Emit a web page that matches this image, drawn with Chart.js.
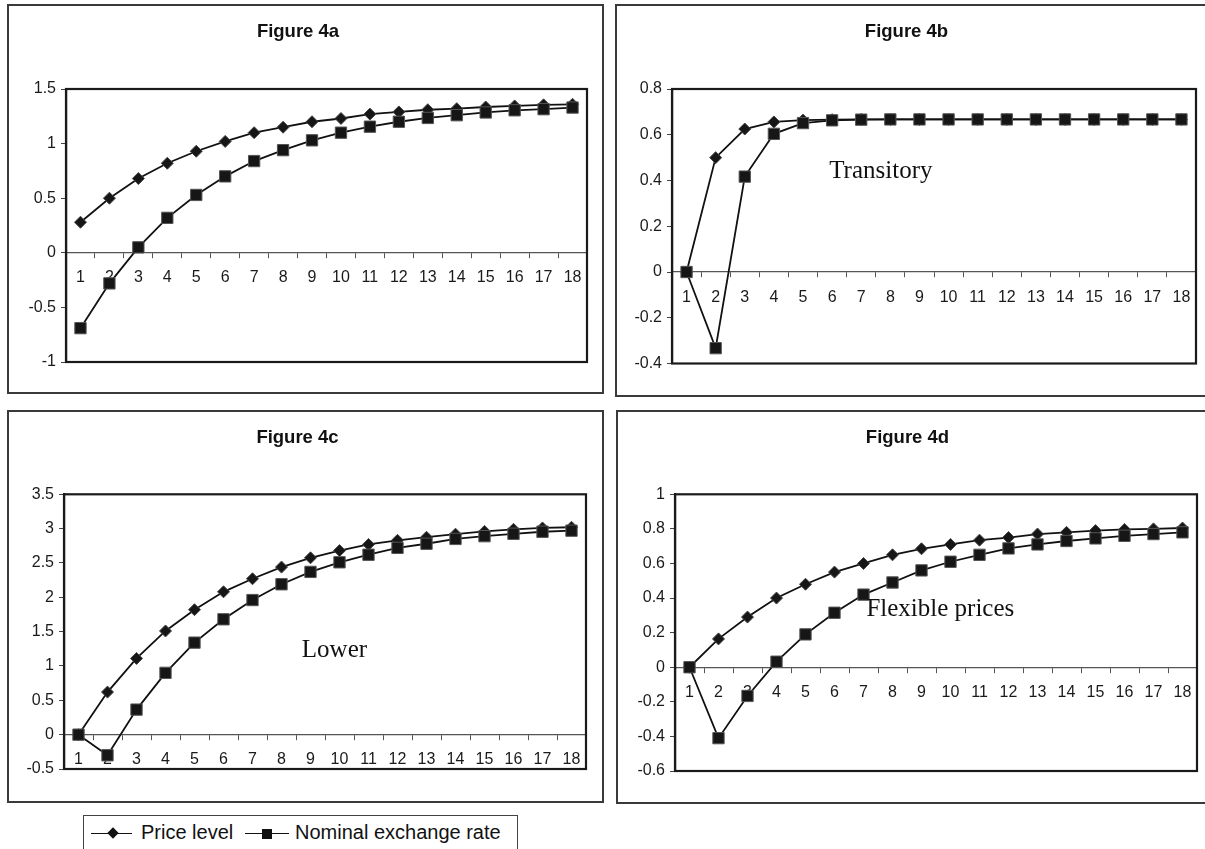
<!DOCTYPE html>
<html>
<head>
<meta charset="utf-8">
<script src="https://cdn.jsdelivr.net/npm/chart.js@4.4.1/dist/chart.umd.min.js"></script>
<style>
    html, body { margin: 0; padding: 0; background: #fff; overflow: hidden; }
    body { width: 1205px; height: 849px; position: relative; font-family: 'Liberation Sans', Arial, sans-serif; }
    .panel { position: absolute; border: 2px solid #3a3a3a; box-sizing: border-box; }
    .panel canvas { position: absolute; left: 0; top: 0; }
    #legend { position: absolute; left: 83px; top: 815px; width: 435px; height: 50px; border: 1px solid #444; box-sizing: border-box; color: #111; }
    #legend .line { position: absolute; height: 0; border-top: 1.5px solid #111; }
    #legend .mark { position: absolute; background: #111; }
    #legend span { position: absolute; top: 6px; font-size: 20px; line-height: 20px; white-space: nowrap; }
</style>
</head>
<body>
<div class="panel" style="left:7px; top:4px; width:597px; height:390px;"><canvas id="chartA" width="593" height="386"></canvas></div>
<div class="panel" style="left:615px; top:4px; width:597px; height:393px;"><canvas id="chartB" width="593" height="389"></canvas></div>
<div class="panel" style="left:7px; top:410px; width:597px; height:393px;"><canvas id="chartC" width="593" height="389"></canvas></div>
<div class="panel" style="left:616px; top:410px; width:597px; height:394px;"><canvas id="chartD" width="593" height="390"></canvas></div>

<div id="legend">
    <div class="line" style="left:7px; top:17px; width:41px;"></div>
    <div class="mark" style="left:25px; top:13px; width:8px; height:8px; transform: rotate(45deg);"></div>
    <span style="left:57px;">Price level</span>
    <div class="line" style="left:161px; top:17px; width:44px;"></div>
    <div class="mark" style="left:178px; top:13px; width:10px; height:10px;"></div>
    <span style="left:211px;">Nominal exchange rate</span>
</div>

<script>
// Periods on the x axis
const periods = ['1', '2', '3', '4', '5', '6', '7', '8', '9', '10', '11', '12', '13', '14', '15', '16', '17', '18'];

// Figure 4a
const priceA = [0.28, 0.50, 0.68, 0.82, 0.93, 1.02, 1.10, 1.15, 1.20, 1.23, 1.27, 1.29, 1.31, 1.32, 1.335, 1.345, 1.355, 1.36];
const rateA  = [-0.69, -0.28, 0.05, 0.32, 0.53, 0.70, 0.84, 0.94, 1.03, 1.10, 1.155, 1.20, 1.235, 1.26, 1.285, 1.305, 1.315, 1.33];
const ticksA = [-1, -0.5, 0, 0.5, 1, 1.5];

// Figure 4b (transitory)
const priceB = [0, 0.50, 0.625, 0.656, 0.664, 0.666, 0.667, 0.667, 0.667, 0.667, 0.667, 0.667, 0.667, 0.667, 0.667, 0.667, 0.667, 0.667];
const rateB  = [0, -0.333, 0.417, 0.604, 0.651, 0.663, 0.666, 0.667, 0.667, 0.667, 0.667, 0.667, 0.667, 0.667, 0.667, 0.667, 0.667, 0.667];
const ticksB = [-0.4, -0.2, 0, 0.2, 0.4, 0.6, 0.8];

// Figure 4c (lower)
const priceC = [0, 0.62, 1.11, 1.51, 1.82, 2.08, 2.27, 2.44, 2.575, 2.68, 2.77, 2.83, 2.875, 2.92, 2.96, 2.99, 3.01, 3.02];
const rateC  = [0, -0.30, 0.365, 0.90, 1.34, 1.68, 1.96, 2.19, 2.37, 2.51, 2.62, 2.72, 2.78, 2.85, 2.89, 2.925, 2.955, 2.97];
const ticksC = [-0.5, 0, 0.5, 1, 1.5, 2, 2.5, 3, 3.5];

// Figure 4d (flexible prices)
const priceD = [0, 0.164, 0.29, 0.40, 0.48, 0.55, 0.60, 0.65, 0.685, 0.71, 0.735, 0.75, 0.77, 0.78, 0.79, 0.797, 0.80, 0.805];
const rateD  = [0, -0.41, -0.166, 0.032, 0.19, 0.315, 0.42, 0.49, 0.56, 0.61, 0.65, 0.687, 0.71, 0.73, 0.745, 0.76, 0.77, 0.78];
const ticksD = [-0.6, -0.4, -0.2, 0, 0.2, 0.4, 0.6, 0.8, 1];

Chart.defaults.font.family = "'Liberation Sans', Arial, sans-serif";
Chart.defaults.color = '#1a1a1a';

// Box round the plot area, drawn under the lines
const plotBoxPlugin = {
    id: 'plotBox',
    beforeDatasetsDraw: (chart) => {
        const a = chart.chartArea;
        const ctx = chart.ctx;
        ctx.save();
        ctx.lineWidth = 2.2;
        ctx.strokeStyle = '#1a1a1a';
        ctx.strokeRect(a.left, a.top, a.right - a.left, a.bottom - a.top);
        ctx.restore();
    }
};

// Text note placed in data coordinates
const notePlugin = {
    id: 'note',
    afterDatasetsDraw: (chart, args, opts) => {
        if (!opts.text) return;
        const ctx = chart.ctx;
        const x = chart.scales.x.getPixelForValue(opts.x);
        const y = chart.scales.y.getPixelForValue(opts.y);
        ctx.save();
        ctx.font = "25px 'Liberation Serif', 'Times New Roman', serif";
        ctx.fillStyle = '#111';
        ctx.textAlign = 'left';
        ctx.textBaseline = 'alphabetic';
        ctx.fillText(opts.text, x, y);
        ctx.restore();
    }
};

function makePanel(id, title, prices, rates, yTicks, box, note) {
    const canvas = document.getElementById(id);
    return new Chart(canvas, {
        type: 'line',
        data: {
            labels: periods,
            datasets: [{
                label: 'Nominal exchange rate',
                data: rates,
                order: 0,
                borderColor: '#111',
                borderWidth: 1.8,
                pointStyle: 'rect',
                pointRadius: 8,
                pointBackgroundColor: '#161616',
                pointBorderColor: '#555',
                pointBorderWidth: 1,
                tension: 0
            }, {
                label: 'Price level',
                data: prices,
                order: 1,
                borderColor: '#111',
                borderWidth: 1.8,
                pointStyle: 'rectRot',
                pointRadius: 6,
                pointBackgroundColor: '#161616',
                pointBorderColor: '#444',
                pointBorderWidth: 1,
                tension: 0
            }]
        },
        options: {
            responsive: false,
            animation: false,
            devicePixelRatio: 1,
            layout: {
                padding: { left: 0, top: 0, right: box.right, bottom: box.bottom }
            },
            plugins: {
                legend: { display: false },
                tooltip: { enabled: false },
                title: {
                    display: true,
                    text: title,
                    color: '#111',
                    font: { size: 18.5, weight: 'bold' },
                    padding: { top: 14.9, bottom: box.titleGap }
                },
                note: note || {}
            },
            scales: {
                x: {
                    type: 'category',
                    position: { y: 0 },
                    offset: true,
                    border: { display: true, color: '#555', width: 1.2 },
                    grid: {
                        offset: true,
                        drawOnChartArea: false,
                        drawTicks: true,
                        tickLength: 5,
                        color: '#555'
                    },
                    ticks: {
                        padding: 10.5,
                        autoSkip: false,
                        maxRotation: 0,
                        color: '#1a1a1a',
                        font: { size: 16 }
                    }
                },
                y: {
                    position: 'left',
                    min: yTicks[0],
                    max: yTicks[yTicks.length - 1],
                    afterBuildTicks: (scale) => {
                        scale.ticks = yTicks.map(v => ({ value: v }));
                    },
                    afterFit: (scale) => {
                        scale.width = box.yWidth;
                    },
                    border: { display: true, color: '#1a1a1a', width: 2.2 },
                    grid: {
                        drawOnChartArea: false,
                        drawTicks: true,
                        tickLength: 5,
                        color: '#444'
                    },
                    ticks: {
                        padding: 5,
                        color: '#1a1a1a',
                        font: { size: 16 },
                        callback: function(value) {
                            return String(Number(value.toFixed(1)));
                        }
                    }
                }
            }
        },
        plugins: [plotBoxPlugin, notePlugin]
    });
}

makePanel('chartA', 'Figure 4a', priceA, rateA, ticksA,
    { yWidth: 57, right: 15, bottom: 30, titleGap: 45.9 });
makePanel('chartB', 'Figure 4b', priceB, rateB, ticksB,
    { yWidth: 55, right: 14, bottom: 31.5, titleGap: 45.9 },
    { text: 'Transitory', x: 4.9, y: 0.409 });
makePanel('chartC', 'Figure 4c', priceC, rateC, ticksC,
    { yWidth: 55, right: 16, bottom: 32, titleGap: 45.2 },
    { text: 'Lower', x: 7.7, y: 1.135 });
makePanel('chartD', 'Figure 4d', priceD, rateD, ticksD,
    { yWidth: 57, right: 14, bottom: 31, titleGap: 45.2 },
    { text: 'Flexible prices', x: 6.1, y: 0.296 });
</script>
</body>
</html>
